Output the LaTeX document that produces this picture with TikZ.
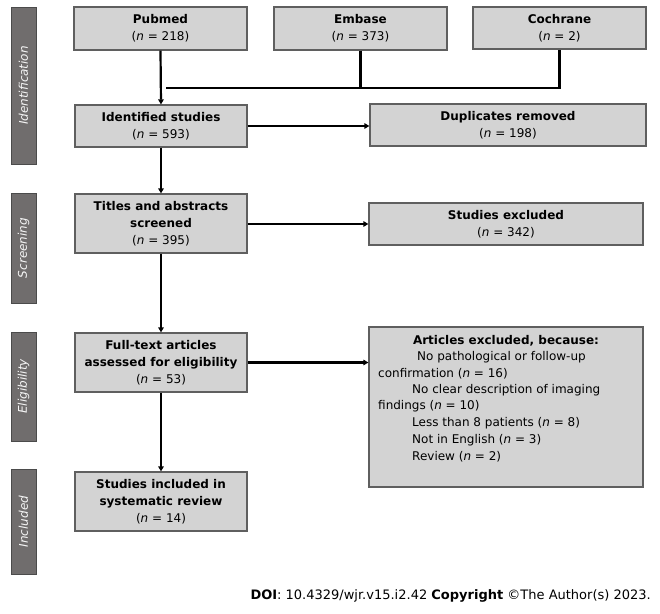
\documentclass[tikz,border=0pt]{standalone}
\usepackage{fontspec}
\setmainfont{DejaVu Sans}
\usetikzlibrary{arrows.meta}
\definecolor{boxfill}{RGB}{211,211,211}
\definecolor{boxline}{RGB}{95,95,95}
\definecolor{barfill}{RGB}{112,109,109}
\definecolor{barline}{RGB}{75,75,75}
\tikzset{
  flowbox/.style={draw=boxline, fill=boxfill, line width=1.2pt, align=center, inner sep=0pt, font=\fontsize{12}{16.8}\selectfont},
  phasebar/.style={draw=barline, fill=barfill, line width=1pt, minimum width=25pt, inner sep=0pt},
  phaselabel/.style={rotate=90, text=white!92!gray, font=\fontsize{12}{14}\selectfont\itshape},
  conn/.style={line width=2.2pt, black},
  arr/.style={conn, -{Triangle[length=5pt,width=5.5pt]}},
  bodytext/.style={anchor=west, inner sep=0pt, font=\fontsize{12}{14}\selectfont}
}
\begin{document}
\begin{tikzpicture}[x=1pt,y=-1pt]
\useasboundingbox (0,0) rectangle (660,613);
% phase bars
\node[phasebar, minimum height=157pt] (bar1) at (23.5,85.5) {};
\node[phaselabel] (lab1) at (bar1.center) {Identification};
\node[phasebar, minimum height=110pt] (bar2) at (23.5,248) {};
\node[phaselabel] (lab2) at (bar2.center) {Screening};
\node[phasebar, minimum height=109pt] (bar3) at (23.5,386.5) {};
\node[phaselabel] (lab3) at (bar3.center) {Eligibility};
\node[phasebar, minimum height=105pt] (bar4) at (23.5,521.5) {};
\node[phaselabel] (lab4) at (bar4.center) {Included};
% boxes
\node[flowbox, minimum width=173pt, minimum height=43pt] (pub) at (160.5,28.5) {\textbf{Pubmed}\\(\textit{n} = 218)};
\node[flowbox, minimum width=173pt, minimum height=43pt] (emb) at (360.5,28.5) {\textbf{Embase}\\(\textit{n} = 373)};
\node[flowbox, minimum width=173pt, minimum height=42pt] (coc) at (559.5,28) {\textbf{Cochrane}\\(\textit{n} = 2)};
\node[flowbox, minimum width=172pt, minimum height=42pt] (ide) at (161,126) {\textbf{Identified studies}\\(\textit{n} = 593)};
\node[flowbox, minimum width=276pt, minimum height=42pt] (dup) at (508,125) {\textbf{Duplicates removed}\\(\textit{n} = 198)};
\node[flowbox, minimum width=172pt, minimum height=59pt] (tit) at (161,223.5) {\textbf{Titles and abstracts}\\\textbf{screened}\\(\textit{n} = 395)};
\node[flowbox, minimum width=274pt, minimum height=42pt] (sex) at (506,224) {\textbf{Studies excluded}\\(\textit{n} = 342)};
\node[flowbox, minimum width=172pt, minimum height=59pt] (ful) at (161,362.5) {\textbf{Full-text articles}\\\textbf{assessed for eligibility}\\(\textit{n} = 53)};
\node[flowbox, minimum width=274pt, minimum height=160pt] (art) at (506,407) {};
\node[flowbox, minimum width=172pt, minimum height=59pt] (inc) at (161,501.5) {\textbf{Studies included in}\\\textbf{systematic review}\\(\textit{n} = 14)};
% excluded list
\node[inner sep=0pt, font=\fontsize{12}{14}\selectfont\bfseries] (t0) at (506,340.5) {Articles excluded, because:};
\node[bodytext] (t1) at (417,357) {No pathological or follow-up};
\node[bodytext] (t2) at (378,373.5) {confirmation (\textit{n} = 16)};
\node[bodytext] (t3) at (412,390) {No clear description of imaging};
\node[bodytext] (t4) at (378,406.5) {findings (\textit{n} = 10)};
\node[bodytext] (t5) at (412,423.5) {Less than 8 patients (\textit{n} = 8)};
\node[bodytext] (t6) at (412,440) {Not in English (\textit{n} = 3)};
\node[bodytext] (t7) at (412,456.5) {Review (\textit{n} = 2)};
% connectors
\coordinate (jl) at (166,88);
\coordinate (jr) at (coc.south |- jl);
\draw[arr] (pub.south) -- (ide.north);
\draw[conn] (jl) -- (jr) -- (coc.south);
\draw[conn] (emb.south) -- (emb.south |- jl);
\draw[arr] (ide.east) -- (ide.east -| dup.west);
\draw[arr] (ide.south) -- (tit.north);
\draw[arr] (tit.east |- sex.west) -- (sex.west);
\draw[arr] (tit.south) -- (ful.north);
\draw[arr] (ful.east) -- (ful.east -| art.west);
\draw[arr] (ful.south) -- (inc.north);
% footer
\node[anchor=east, inner sep=0pt, font=\fontsize{13}{15}\selectfont] (doi) at (651,596) {\textbf{DOI}: 10.4329/wjr.v15.i2.42 \textbf{Copyright} \textcopyright The Author(s) 2023.};
\end{tikzpicture}
\end{document}
